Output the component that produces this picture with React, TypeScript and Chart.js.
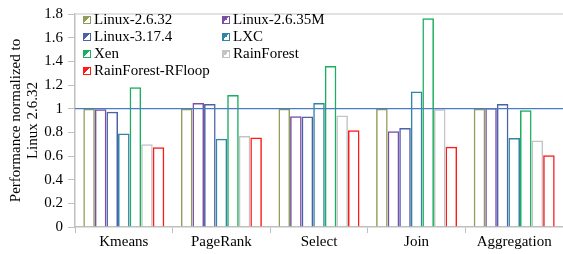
import React, { useEffect, useRef } from "react";
import { Chart, registerables } from "chart.js";

Chart.register(...registerables);

const categories = ["Kmeans", "PageRank", "Select", "Join", "Aggregation"];
const seriesNames = ["Linux-2.6.32", "Linux-2.6.35M", "Linux-3.17.4", "LXC", "Xen", "RainForest", "RainForest-RFloop"];
const linux2632 = [1.0, 1.0, 1.0, 1.0, 1.0];
const linux2635m = [0.995, 1.047, 0.935, 0.81, 1.006];
const linux3174 = [0.975, 1.04, 0.934, 0.836, 1.04];
const lxc = [0.79, 0.745, 1.047, 1.145, 0.752];
const xen = [1.18, 1.115, 1.36, 1.765, 0.986];
const rainforest = [0.7, 0.77, 0.943, 0.995, 0.73];
const rfloop = [0.675, 0.757, 0.817, 0.678, 0.607];
const yTicks = [0, 0.2, 0.4, 0.6, 0.8, 1, 1.2, 1.4, 1.6, 1.8];
const referenceValue = 1;

const seriesValues = [linux2632, linux2635m, linux3174, lxc, xen, rainforest, rfloop];
const colors = ["#8e9e5a", "#7a4fa8", "#4a62a8", "#2f86a6", "#1aae5e", "#c4c4c4", "#ff1a1a"];

const FONT = "'Liberation Serif', 'Times New Roman', serif";

const refLinePlugin = {
  id: "refLine",
  afterDatasetsDraw(chart: any) {
    const { ctx, chartArea, scales } = chart;
    const y = scales.y.getPixelForValue(referenceValue);
    ctx.save();
    ctx.strokeStyle = "#4a7cc4";
    ctx.lineWidth = 1.3;
    ctx.beginPath();
    ctx.moveTo(chartArea.left, y);
    ctx.lineTo(chartArea.right, y);
    ctx.stroke();
    const top = scales.y.getPixelForValue(1.8);
    ctx.strokeStyle = "#d9d9d9";
    ctx.lineWidth = 1.5;
    ctx.beginPath();
    ctx.moveTo(chartArea.left, top);
    ctx.lineTo(chartArea.right, top);
    ctx.stroke();
    ctx.restore();
  },
};

export default function App() {
  const ref = useRef<HTMLCanvasElement | null>(null);
  useEffect(() => {
    document.body.style.margin = "0";
    if (!ref.current) return;
    const chart = new Chart(ref.current, {
      type: "bar",
      data: {
        labels: categories,
        datasets: seriesNames.map((name, i) => ({
          label: name,
          data: seriesValues[i],
          backgroundColor: "rgba(255,255,255,0)",
          borderColor: colors[i],
          borderWidth: 1.5,
          barPercentage: 1,
          categoryPercentage: 0.83,
        })),
      },
      options: {
        animation: false,
        responsive: false,
        maintainAspectRatio: false,
        layout: { padding: { top: 6, right: 0, left: 8, bottom: 0 } },
        plugins: { legend: { display: false }, tooltip: { enabled: false } },
        scales: {
          x: {
            grid: { drawOnChartArea: false, drawTicks: true, tickLength: 6, color: "#bfbfbf", offset: true },
            border: { color: "#bfbfbf", width: 1.5 },
            ticks: { color: "#000", font: { family: FONT, size: 15 }, padding: 0 },
            afterFit: (s: any) => { s.height = 27; },
          },
          y: {
            min: 0,
            max: 1.8,
            afterBuildTicks: (s: any) => { s.ticks = yTicks.map((v) => ({ value: v })); },
            grid: { drawOnChartArea: false, drawTicks: true, tickLength: 7, color: "#bfbfbf" },
            border: { color: "#bfbfbf", width: 1.5 },
            ticks: {
              color: "#000",
              font: { family: FONT, size: 15 },
              padding: 5,
              callback: (v: any) => String(Number(Number(v).toFixed(1))),
            },
            title: {
              display: true,
              text: ["Performance normalized to", "Linux 2.6.32"],
              color: "#000",
              font: { family: FONT, size: 15, lineHeight: 1.13 },
              padding: { top: 0, bottom: 0 },
            },
            afterFit: (s: any) => { s.width = 67; },
          },
        },
      },
      plugins: [refLinePlugin],
    });
    return () => chart.destroy();
  }, []);

  const legendPos = [
    [83, 11], [222, 11],
    [83, 28], [222, 28],
    [83, 45], [222, 45],
    [83, 62],
  ];

  return (
    <div style={{ position: "fixed", left: 0, top: 0, width: 563, height: 254, background: "#fff" }}>
      <canvas ref={ref} width={563} height={254} style={{ width: 563, height: 254, display: "block" }} />
      {seriesNames.map((name, i) => (
        <div
          key={name}
          style={{
            position: "absolute",
            left: legendPos[i][0],
            top: legendPos[i][1],
            height: 17,
            display: "flex",
            alignItems: "center",
            fontFamily: FONT,
            fontSize: 15,
            color: "#000",
            whiteSpace: "nowrap",
          }}
        >
          <span
            style={{
              display: "inline-block",
              width: 6,
              height: 6,
              border: `1px solid ${colors[i]}`,
              background: `linear-gradient(135deg, ${colors[i]} 50%, #fff 50%)`,
              marginRight: 3,
            }}
          />
          {name}
        </div>
      ))}
    </div>
  );
}
